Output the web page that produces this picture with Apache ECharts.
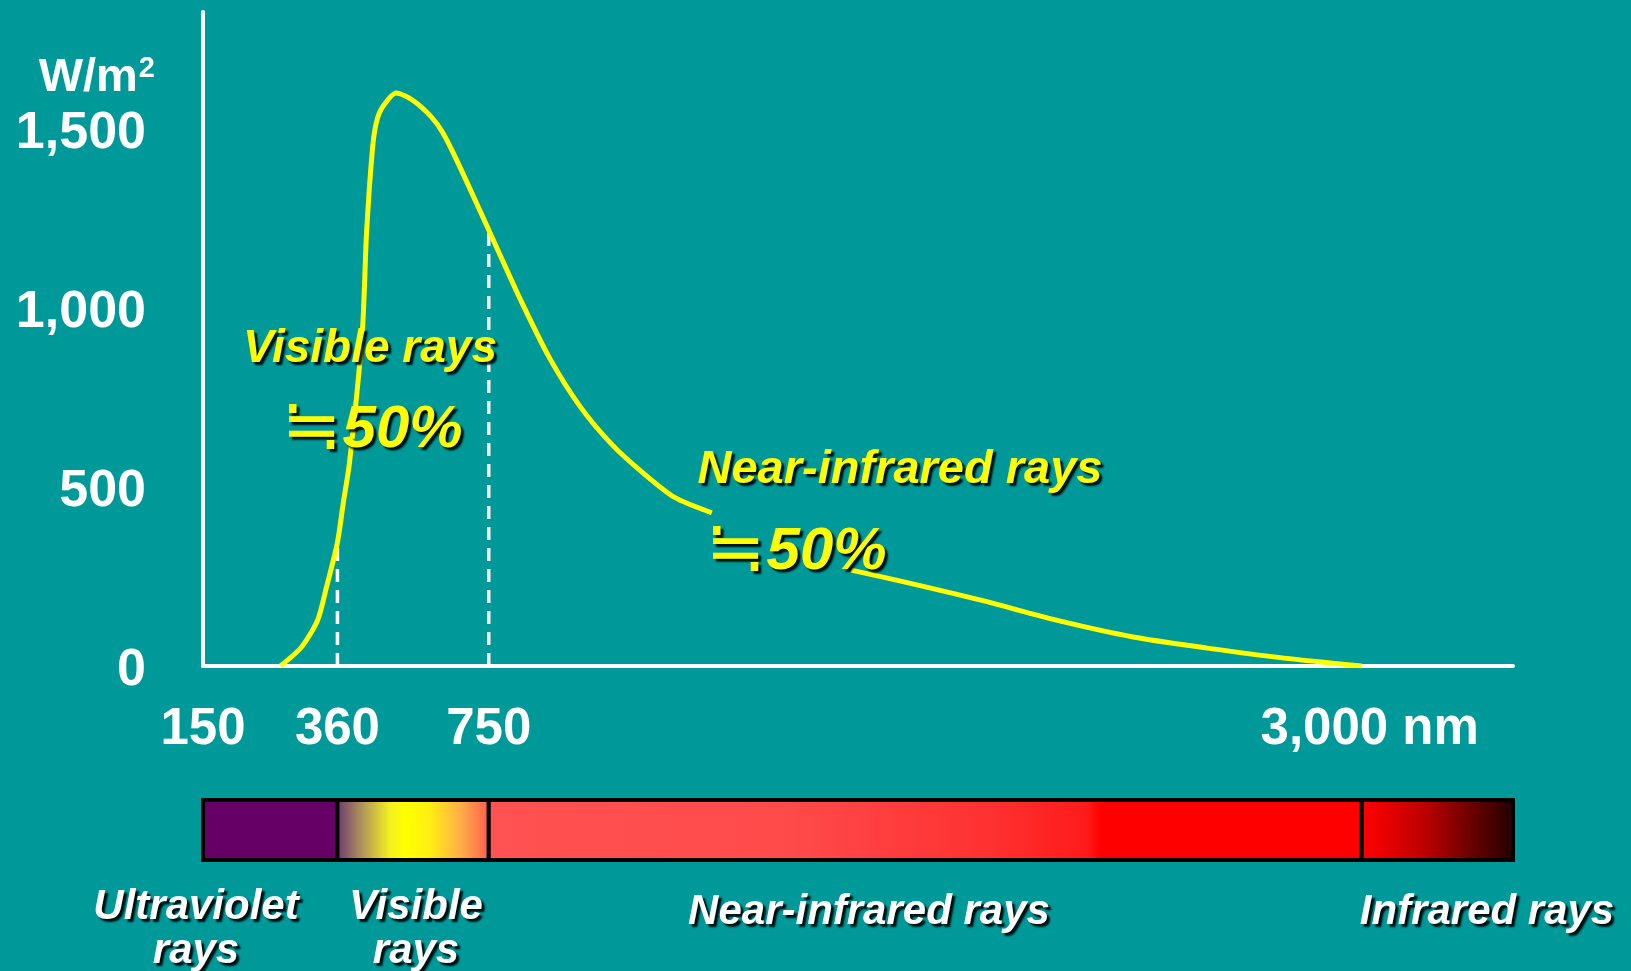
<!DOCTYPE html>
<html>
<head>
<meta charset="utf-8">
<script src="https://cdn.jsdelivr.net/npm/echarts@6/dist/echarts.min.js"></script>
<style>
  html, body { margin: 0; padding: 0; background: #009999; }
  #chart { width: 1631px; height: 971px; }
</style>
</head>
<body>
<div id="chart"></div>
<script>
// Solar irradiance reaching the ground, by wavelength (nm → W/m²).
// The null entry breaks the curve where the near-infrared share label sits.
const wavelengthsNm = [271, 304, 329, 343, 360, 375, 391, 424, 435, 450, 460, 476, 512, 553, 602, 632, 671, 750,
                       828, 908, 988, 1069, 1149, 1229, 1325, 1500, 1684, 1820, 2018, 2213, 2411, 2602, 2800, 3000];
const irradiance    = [0, 53, 128, 221, 345, 455, 567, 930, 1209, 1441, 1517, 1561, 1601, 1581, 1534, 1489, 1405, 1218,
                       1032, 858, 721, 617, 538, 471, 428, null, 268, 235, 184, 128, 81, 50, 22, 0];

// Band boundaries marked with dashed guides
const guideNm = [360, 750];

// Axis ticks
const xTickNm = [150, 360, 750, 3000];
const xTickLabels = ['150', '360', '750', '3,000 nm'];
const yTickValues = [0, 500, 1000, 1500];
const yTickLabels = ['0', '500', '1,000', '1,500'];
const yUnitBase = 'W/m', yUnitPower = '2';

// Spectrum strip below the chart
const bandStartNm = [150, 360, 750, 3000];
const bandEndNm   = [360, 750, 3000, 3390];
const bandLabels  = ['Ultraviolet\nrays', 'Visible\nrays', 'Near-infrared rays', 'Infrared rays'];

// Share of energy in each region
const shareTitles = ['Visible rays', 'Near-infrared rays'];
const shareValues = ['\u225250%', '\u225250%'];

const X_MIN_NM = 150, X_MAX_NM = 3390, Y_MAX = 1827;

// The short-wave end of the axis is drawn stretched so the UV band stays readable.
const UV_KNEE = 360, UV_STRETCH = 1.65;
function toAxis(nm) {
  return nm >= UV_KNEE ? nm : UV_KNEE - (UV_KNEE - nm) * UV_STRETCH;
}

const FONT = "'Liberation Sans', Arial, 'DejaVu Sans', sans-serif";
const SIGN_FONT = "'DejaVu Sans', sans-serif";
const YELLOW = '#ffff00';

const curveData = wavelengthsNm.map((nm, i) => [toAxis(nm), irradiance[i]]);
const guideSeries = guideNm.map(nm => ({
  type: 'line',
  xAxisIndex: 0, yAxisIndex: 0,
  data: [[toAxis(nm), 0], [toAxis(nm), irradiance[wavelengthsNm.indexOf(nm)]]],
  symbol: 'none',
  lineStyle: { color: '#ffffff', width: 3.5, type: [13, 8] },
  z: 2,
  silent: true
}));

const G = echarts.graphic.LinearGradient;
const bandFills = [
  '#660066',
  new G(0, 0, 1, 0, [
    { offset: 0, color: '#6a3470' }, { offset: 0.18, color: '#b3985a' }, { offset: 0.35, color: '#f4f020' },
    { offset: 0.45, color: '#ffff00' }, { offset: 0.6, color: '#fff010' }, { offset: 0.8, color: '#ffb048' },
    { offset: 1, color: '#ff5a50' }]),
  new G(0, 0, 1, 0, [
    { offset: 0, color: '#ff5252' }, { offset: 0.35, color: '#ff4a4a' }, { offset: 0.58, color: '#ff3030' },
    { offset: 0.685, color: '#ff1a1a' }, { offset: 0.7, color: '#ff0000' }, { offset: 1, color: '#ff0000' }]),
  new G(0, 0, 1, 0, [
    { offset: 0, color: '#ff0000' }, { offset: 0.12, color: '#f00000' }, { offset: 0.4, color: '#c00000' },
    { offset: 0.7, color: '#700000' }, { offset: 1, color: '#200000' }])
];
const bandData = bandStartNm.map((s, i) => [toAxis(s), toAxis(bandEndNm[i]), i]);

const shadow = { textShadowColor: 'rgba(0,0,0,0.9)', textShadowBlur: 2, textShadowOffsetX: 3, textShadowOffsetY: 3 };
function label(text, x, y, size, color, extra) {
  return {
    type: 'text', x: x, y: y, z: 100,
    style: Object.assign({
      text: text, fill: color,
      font: `italic bold ${size}px ${FONT}`,
      align: 'center', verticalAlign: 'middle'
    }, shadow, extra || {})
  };
}
// "≒50%": the approx sign in a lighter face, the number in bold italic
function shareLabel(text, x, y) {
  return {
    type: 'text', x: x, y: y, z: 100,
    style: Object.assign({
      text: `{e|${text[0]}}{n|${text.slice(1)}}`,
      align: 'center', verticalAlign: 'middle',
      rich: {
        e: { fill: YELLOW, fontFamily: SIGN_FONT, fontStyle: 'italic', fontWeight: 'normal', fontSize: 72, padding: [0, 1, 0, 0] },
        n: { fill: YELLOW, fontFamily: FONT, fontStyle: 'italic', fontWeight: 'bold', fontSize: 60 }
      }
    }, shadow)
  };
}

const xLabelFont = { color: '#ffffff', fontFamily: FONT, fontWeight: 'bold', fontSize: 51 };

const chart = echarts.init(document.getElementById('chart'), null, { renderer: 'canvas' });
chart.setOption({
  backgroundColor: '#009999',
  animation: false,
  grid: [
    { left: 203, right: 118, top: 12, bottom: 305 },
    { left: 203, right: 118, top: 800, height: 60 }
  ],
  xAxis: [
    {
      type: 'value', gridIndex: 0, min: toAxis(X_MIN_NM), max: X_MAX_NM,
      axisLine: { show: true, lineStyle: { color: '#ffffff', width: 4 } },
      axisTick: { show: false },
      splitLine: { show: false },
      axisLabel: Object.assign({
        customValues: xTickNm.map(toAxis),
        formatter: v => {
          let best = 0;
          xTickNm.forEach((nm, i) => { if (Math.abs(toAxis(nm) - v) < Math.abs(toAxis(xTickNm[best]) - v)) best = i; });
          // the last tick carries the unit, nudged right so the number sits over its tick
          return best === xTickNm.length - 1 ? `{unit|${xTickLabels[best]}}` : xTickLabels[best];
        },
        margin: 38,
        rich: { unit: Object.assign({ padding: [0, 0, 0, 16] }, xLabelFont) }
      }, xLabelFont)
    },
    {
      type: 'value', gridIndex: 1, min: toAxis(X_MIN_NM), max: X_MAX_NM, show: false
    }
  ],
  yAxis: [
    {
      type: 'value', gridIndex: 0, min: 0, max: Y_MAX,
      axisLine: { show: true, lineStyle: { color: '#ffffff', width: 4 } },
      axisTick: { show: false },
      splitLine: { show: false },
      axisLabel: {
        customValues: yTickValues,
        // top padding on the token lowers the digits onto their tick
        formatter: v => `{v|${yTickLabels[yTickValues.indexOf(v)]}}`,
        margin: 57,
        rich: { v: { color: '#ffffff', fontFamily: FONT, fontWeight: 'bold', fontSize: 52, padding: [9, 0, 0, 0] } }
      }
    },
    { type: 'value', gridIndex: 1, min: 0, max: 1, show: false }
  ],
  series: [
    ...guideSeries,
    {
      type: 'line',
      xAxisIndex: 0, yAxisIndex: 0,
      data: curveData,
      connectNulls: false,
      smooth: 0.25,
      symbol: 'none',
      lineStyle: { color: YELLOW, width: 5 },
      z: 3,
      silent: true
    },
    {
      type: 'custom',
      xAxisIndex: 1, yAxisIndex: 1,
      data: bandData,
      encode: { x: [0, 1] },
      renderItem: (params, api) => {
        const a = api.coord([api.value(0), 1]);
        const b = api.coord([api.value(1), 0]);
        return {
          type: 'rect',
          shape: { x: a[0], y: a[1], width: b[0] - a[0], height: b[1] - a[1] },
          style: { fill: bandFills[api.value(2)], stroke: '#000000', lineWidth: 4 }
        };
      },
      silent: true
    }
  ],
  graphic: [
    {
      type: 'text', x: 155, y: 78, z: 100,
      style: {
        text: `{b|${yUnitBase}}{p|${yUnitPower}}`,
        align: 'right', verticalAlign: 'middle',
        rich: {
          b: { fill: '#ffffff', fontFamily: FONT, fontWeight: 'bold', fontSize: 47 },
          p: { fill: '#ffffff', fontFamily: FONT, fontWeight: 'bold', fontSize: 29, verticalAlign: 'top', padding: [0, 0, 0, 1] }
        }
      }
    },
    label(shareTitles[0], 370, 349, 46, YELLOW),
    shareLabel(shareValues[0], 372, 430),
    label(shareTitles[1], 900, 470, 47, YELLOW),
    shareLabel(shareValues[1], 796, 552),
    label(bandLabels[0], 196, 929, 42, '#ffffff', { lineHeight: 44 }),
    label(bandLabels[1], 416, 929, 42, '#ffffff', { lineHeight: 44 }),
    label(bandLabels[2], 869, 912, 42, '#ffffff'),
    label(bandLabels[3], 1487, 912, 42, '#ffffff')
  ]
});
</script>
</body>
</html>
